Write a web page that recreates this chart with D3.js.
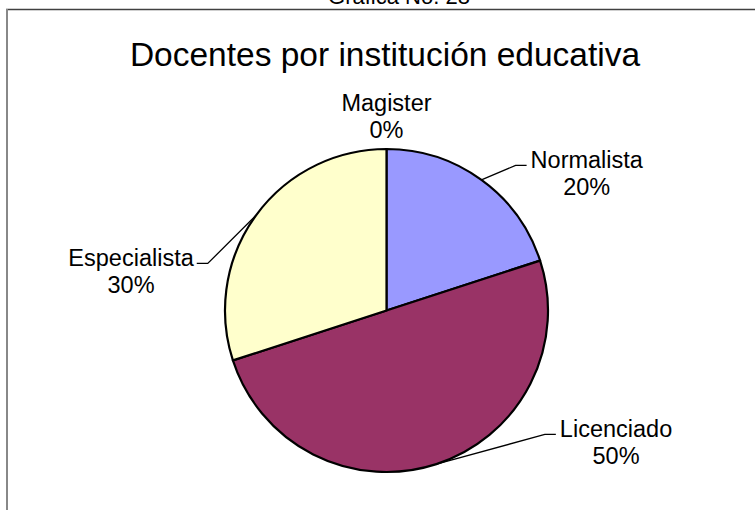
<!DOCTYPE html>
<html>
<head>
<meta charset="utf-8">
<script src="https://cdn.jsdelivr.net/npm/d3@7"></script>
<style>
  body { margin: 0; background: #fff; }
  text { font-family: "Liberation Sans", Arial, sans-serif; fill: #000; }
</style>
</head>
<body>
<div id="chart"></div>
<script>
// data
const categories = ["Normalista", "Licenciado", "Especialista", "Magister"];
const percentages = [20, 50, 30, 0];
const sliceColors = ["#9999FF", "#993366", "#FFFFCC", "#CCFFFF"];
const pageTitle = "Gráfica No. 28";
const chartTitle = "Docentes por institución educativa";

const width = 755, height = 510;
const cx = 386.5, cy = 310.5, radius = 161.5;

// where Excel dragged each label: angle (deg, clockwise from top) and distance from centre
const labelPlacement = {
  "Normalista": { angle: 55.5, dist: 243, side: "right" },
  "Licenciado": { angle: 119.8, dist: 264.5, side: "right" },
  "Especialista": { angle: 278.8, dist: 258.5, side: "left" },
  "Magister": { angle: 0, dist: 194, side: "top" }
};

const svg = d3.select("#chart").append("svg")
  .attr("width", width)
  .attr("height", height);

// frame
svg.append("line")
  .attr("x1", 6).attr("x2", width).attr("y1", 9.5).attr("y2", 9.5)
  .attr("stroke", "#404040").attr("stroke-width", 1.5);
svg.append("line")
  .attr("x1", 7).attr("x2", 7).attr("y1", 9).attr("y2", height)
  .attr("stroke", "#888").attr("stroke-width", 2);

svg.append("text")
  .attr("x", 399).attr("y", 4)
  .attr("text-anchor", "middle")
  .style("font-size", "22px")
  .text(pageTitle);

svg.append("text")
  .attr("x", 385).attr("y", 66)
  .attr("text-anchor", "middle")
  .style("font-size", "33.5px")
  .text(chartTitle);

const data = categories.map((c, i) => ({ name: c, value: percentages[i], color: sliceColors[i] }));

const pie = d3.pie().sort(null).value(d => d.value);
const arc = d3.arc().innerRadius(0).outerRadius(radius);
const arcs = pie(data);

const g = svg.append("g").attr("transform", `translate(${cx},${cy})`);

g.selectAll("path")
  .data(arcs.filter(d => d.value > 0))
  .join("path")
  .attr("d", arc)
  .attr("fill", d => d.data.color)
  .attr("stroke", "#000")
  .attr("stroke-width", 2.2)
  .attr("stroke-linejoin", "round");

const total = d3.sum(percentages);
const fontSize = 23.5;
const lineGap = 27;

arcs.forEach(d => {
  const p = labelPlacement[d.data.name];
  const a = p.angle * Math.PI / 180;
  const lx = Math.sin(a) * p.dist;
  const ly = -Math.cos(a) * p.dist;
  const pct = Math.round(d.value / total * 100) + "%";

  const t = g.append("text")
    .attr("x", lx).attr("y", ly - lineGap / 2)
    .attr("text-anchor", "middle")
    .attr("dy", "0.35em")
    .style("font-size", fontSize + "px");
  t.append("tspan").attr("x", lx).text(d.data.name);
  t.append("tspan").attr("x", lx).attr("dy", lineGap).text(pct);

  if (d.value === 0) return;

  // leader line: slice edge at mid angle -> elbow -> short horizontal beside first line
  const firstW = t.select("tspan").node().getComputedTextLength();
  const yLine = ly - lineGap / 2 + 6;
  const mid = (d.startAngle + d.endAngle) / 2;
  const ex = Math.sin(mid) * radius, ey = -Math.cos(mid) * radius;
  let hx0, hx1;
  if (p.side === "right") {
    hx0 = lx - firstW / 2 - 4;
    hx1 = hx0 - 11;
  } else {
    hx0 = lx + firstW / 2 + 3;
    hx1 = hx0 + 11;
  }
  g.append("path")
    .attr("d", d3.line()([[ex, ey], [hx1, yLine], [hx0, yLine]]))
    .attr("fill", "none")
    .attr("stroke", "#000")
    .attr("stroke-width", 1.3);
});
</script>
</body>
</html>
